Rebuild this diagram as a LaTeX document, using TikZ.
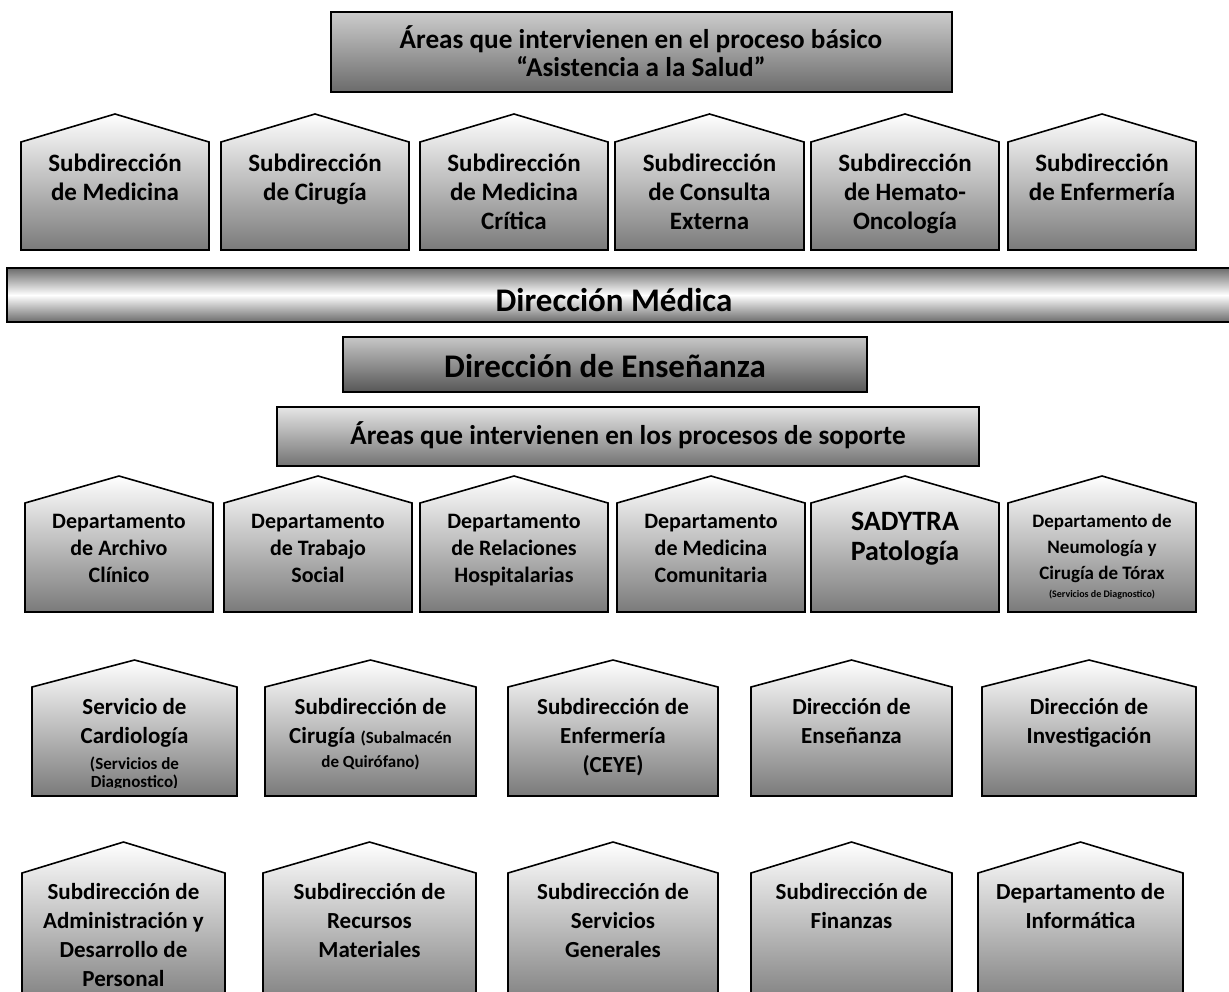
\documentclass[tikz,border=0pt]{standalone}
\usepackage{fontspec}
\setmainfont{Carlito}
\usetikzlibrary{positioning}

\tikzset{
  casa/.style={draw=black, line width=0.8pt, top color=white, bottom color=black!52},
  caja/.style={draw=black, line width=0.8pt},
  rotulo/.style={font=\bfseries\fontsize{12.5}{14.5}\selectfont, align=center, anchor=north, inner sep=0pt},
  rotulob/.style={rotulo, font=\bfseries\fontsize{11}{13.5}\selectfont},
  rotuloc/.style={rotulo, font=\bfseries\fontsize{11.5}{14.5}\selectfont},
  titulo/.style={font=\bfseries\fontsize{13.6}{14}\selectfont, align=center, inner sep=0pt},
  grande/.style={font=\bfseries\fontsize{16.5}{18}\selectfont, inner sep=0pt}
}
% pentagono: izquierda, derecha, punta, hombro, base
\newcommand{\casa}[5]{\draw[casa] (#1,#5) -- (#1,#4) -- ({(#1+#2)/2},#3) -- (#2,#4) -- (#2,#5) -- cycle;}
\newcommand{\chico}{\fontsize{8.5}{10}\selectfont}

\begin{document}
\begin{tikzpicture}[x=0.5pt,y=-0.5pt]
    \clip (0,0) rectangle (1229,991);
    % proceso basico
    \draw[caja, top color=black!20, bottom color=black!58] (331,12) rectangle (952,92);
    \node[titulo] at (641,51) (asistencia) {Áreas que intervienen en el proceso básico\\“Asistencia a la Salud”};
    \casa{21}{209}{114}{142}{250}
    \casa{221}{409}{114}{142}{250}
    \casa{420}{608}{114}{142}{250}
    \casa{615}{804}{114}{142}{250}
    \casa{811}{999}{114}{142}{250}
    \casa{1008}{1196}{114}{142}{250}
    \node[rotulo] at (115,154) (medicina) {Subdirección\\de Medicina};
    \node[rotulo] at (315,154) (cirugia) {Subdirección\\de Cirugía};
    \node[rotulo] at (514,154) (critica) {Subdirección\\de Medicina\\Crítica};
    \node[rotulo] at (709.5,154) (consulta) {Subdirección\\de Consulta\\Externa};
    \node[rotulo] at (905,154) (hemato) {Subdirección\\de Hemato-\\Oncología};
    \node[rotulo] at (1102,154) (enfermeria) {Subdirección\\de Enfermería};
    % barra central
    \draw[caja, top color=black!58, bottom color=black!58, middle color=white] (7,268) rectangle (1240,322);
    \node[grande] at (614,300) (medica) {Dirección Médica};
    \draw[caja, top color=black!22, bottom color=black!66] (343,337) rectangle (867,392);
    \node[grande] at (605,366) (ensenanza) {Dirección de Enseñanza};
    % procesos de soporte
    \draw[caja, top color=black!10, bottom color=black!55] (277,407) rectangle (979,466);
    \node[titulo] at (628,435) (soporte) {Áreas que intervienen en los procesos de soporte};
    \casa{25}{213}{476}{503}{612}
    \casa{224}{412}{476}{503}{612}
    \casa{420}{608}{476}{503}{612}
    \casa{617}{805}{476}{503}{612}
    \casa{811}{999}{476}{503}{612}
    \casa{1008}{1196}{476}{503}{612}
    \node[rotulob] at (119,514) (archivo) {Departamento\\de Archivo\\Clínico};
    \node[rotulob] at (318,514) (trabajo) {Departamento\\de Trabajo\\Social};
    \node[rotulob] at (514,514) (relaciones) {Departamento\\de Relaciones\\Hospitalarias};
    \node[rotulob] at (711,514) (comunitaria) {Departamento\\de Medicina\\Comunitaria};
    \node[rotulo, font=\bfseries\fontsize{14}{15}\selectfont] at (905,512) (sadytra) {SADYTRA\\Patología};
    \node[rotulo, font=\bfseries\fontsize{9.5}{13}\selectfont] at (1102,514) (neumologia) {Departamento de\\Neumología y\\Cirugía de Tórax\\[-4pt]{\fontsize{5}{6}\selectfont (Servicios de Diagnostico)}};
    \casa{32}{237}{660}{687}{796}
    \casa{265}{476}{660}{687}{796}
    \casa{508}{718}{660}{687}{796}
    \casa{751}{952}{660}{687}{796}
    \casa{982}{1196}{660}{687}{796}
    \begin{scope}
      \clip (32,687) rectangle (237,787);
      \node[rotuloc] at (134.5,698) (cardiologia) {Servicio de\\Cardiología\\[-1.5pt]{\chico (Servicios de}\\[-5.5pt]{\chico Diagnostico)}};
    \end{scope}
    \node[rotuloc] at (370.5,698) (quirofano) {Subdirección de\\Cirugía {\chico (Subalmacén}\\[-2.5pt]{\chico de Quirófano)}};
    \node[rotuloc] at (613,698) (ceye) {Subdirección de\\Enfermería\\(CEYE)};
    \node[rotuloc] at (851.5,698) (ensenanza2) {Dirección de\\Enseñanza};
    \node[rotuloc] at (1089,698) (investigacion) {Dirección de\\Investigación};
    \casa{22}{225}{842}{873}{1010}
    \casa{263}{476}{842}{873}{1010}
    \casa{508}{718}{842}{873}{1010}
    \casa{751}{952}{842}{873}{1010}
    \casa{978}{1183}{842}{873}{1010}
    \node[rotuloc] at (123.5,883) (personal) {Subdirección de\\Administración y\\Desarrollo de\\Personal};
    \node[rotuloc] at (369.5,883) (materiales) {Subdirección de\\Recursos\\Materiales};
    \node[rotuloc] at (613,883) (generales) {Subdirección de\\Servicios\\Generales};
    \node[rotuloc] at (851.5,883) (finanzas) {Subdirección de\\Finanzas};
    \node[rotuloc] at (1080.5,883) (informatica) {Departamento de\\Informática};
\end{tikzpicture}
\end{document}
